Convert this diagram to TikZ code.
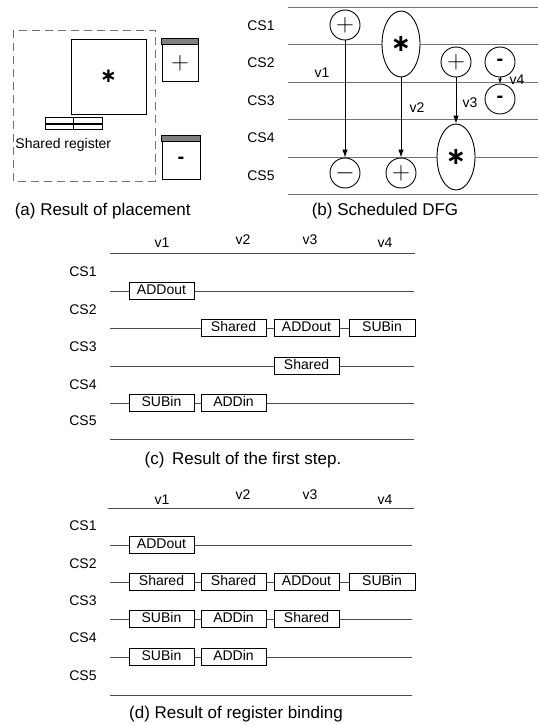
\documentclass[tikz,border=0pt]{standalone}
\usepackage{fontspec}
\setmainfont{Liberation Sans}
\newfontfamily\symfont{DejaVu Sans}
\usetikzlibrary{shapes.geometric,arrows.meta}
\newcommand{\estrella}{{\symfont\bfseries ∗}}
\begin{document}
\begin{tikzpicture}[
    x=1pt,
    y=-1pt,
    line width=0.9pt,
    >={Latex[length=8pt,width=5.5pt]},
    font=\fontsize{14}{16}\selectfont,
    opc/.style={draw,circle,minimum size=30pt,inner sep=0pt,fill=white,
        font=\fontsize{30}{30}\selectfont},
    opm/.style={draw,ellipse,minimum width=38pt,minimum height=66pt,
        inner sep=0pt,fill=white,font=\fontsize{24}{24}\selectfont},
    reg/.style={draw,fill=white,minimum width=65pt,minimum height=17pt,
        inner sep=0pt,text height=10pt,text depth=2.5pt},
    fila/.style={black!70},
    csfila/.style={black!55},
    leyenda/.style={font=\fontsize{17}{19}\selectfont}
]
    \useasboundingbox (0,0) rectangle (538,725);

    % Panel (a): placement
    \draw[black!55,dash pattern=on 8pt off 5pt] (13,30) rectangle (155,181);
    \node[draw,minimum size=75pt,inner sep=0pt,font=\fontsize{20}{20}\selectfont]
        (mula) at (108.5,76.5) {\estrella};
    \draw (45,117) rectangle (102,129);
    \draw (73,117) -- (73,129);
    \draw[line width=1.6pt] (45,124) -- (102,124);
    \node[anchor=west,inner sep=0pt] (sreg) at (15,145) {Shared register};
    \node[draw,minimum width=36pt,minimum height=42pt] (adda) at (180,60) {};
    \filldraw[fill=gray] (adda.north west) rectangle ([yshift=-6pt]adda.north east);
    \node[font=\fontsize{26}{26}\selectfont] (addsym) at ([yshift=-3pt]adda.center) {$+$};
    \node[draw,minimum width=38pt,minimum height=43pt] (suba) at (181,157.5) {};
    \filldraw[fill=gray] (suba.north west) rectangle ([yshift=-6pt]suba.north east);
    \node[font=\fontsize{20}{20}\selectfont\bfseries] (subsym) at ([yshift=-3pt]suba.center) {-};
    \node[leyenda,anchor=west] (capa) at (11,211) {(a) Result of placement};

    % Panel (b): scheduled DFG
    \foreach \y in {7,44,82,119,157,194}
        \draw[csfila] (288,\y) -- (538,\y);
    \foreach \n/\y in {1/26,2/63,3/101,4/138,5/176}
        \node (csb\n) at (261,\y) {CS\n};
    \node[opc] (addA) at (345,25) {$+$};
    \node[opm] (mulB) at (401,44) {\estrella};
    \node[opc] (addC) at (456,62) {$+$};
    \node[opc,font=\fontsize{20}{20}\selectfont\bfseries] (subD) at (500,62) {-};
    \node[opc,font=\fontsize{20}{20}\selectfont\bfseries] (subE) at (500,99) {-};
    \node[opc] (subF) at (345,173) {$-$};
    \node[opc] (addG) at (401,173) {$+$};
    \node[opm] (mulH) at (456,157) {\estrella};
    \draw[->] (addA) -- (subF);
    \draw[->] (mulB) -- (addG);
    \draw[->] (addC) -- (mulH);
    \draw[-{Latex[length=5pt,width=4pt]}] (subD) -- (subE);
    \node (v1b) at (322,73) {v1};
    \node (v2b) at (417,108) {v2};
    \node (v3b) at (470,103) {v3};
    \node (v4b) at (517,80) {v4};
    \node[leyenda] (capb) at (385,211) {(b) Scheduled DFG};

    % Panel (c): first step
    \node (v1c) at (162,243) {v1};
    \node (v2c) at (243,240) {v2};
    \node (v3c) at (310,240) {v3};
    \node (v4c) at (385,243) {v4};
    \draw[fila] (110,253) -- (415,253);
    \foreach \y in {291,328,366,403,439}
        \draw[fila] (110,\y) -- (414,\y);
    \foreach \n/\y in {1/272,2/310,3/347,4/385,5/421}
        \node (csc\n) at (83,\y) {CS\n};
    \node[reg] (c11) at (161.5,291) {ADDout};
    \node[reg] (c22) at (233.5,328) {Shared};
    \node[reg] (c23) at (306.5,328) {ADDout};
    \node[reg,minimum width=66pt] (c24) at (382,328) {SUBin};
    \node[reg] (c33) at (306.5,366) {Shared};
    \node[reg] (c41) at (161.5,403) {SUBin};
    \node[reg] (c42) at (233.5,403) {ADDin};
    \node[leyenda] (capc) at (243,460) {(c)\, Result of the first step.};

    % Panel (d): register binding
    \node (v1d) at (162,500) {v1};
    \node (v2d) at (243,495) {v2};
    \node (v3d) at (310,495) {v3};
    \node (v4d) at (385,500) {v4};
    \draw[fila] (108,508) -- (414,508);
    \foreach \y in {545,582,619,657,695}
        \draw[fila] (110,\y) -- (412,\y);
    \foreach \n/\y in {1/526,2/564,3/601,4/638,5/676}
        \node (csd\n) at (83,\y) {CS\n};
    \node[reg] (d11) at (161.5,545) {ADDout};
    \node[reg] (d21) at (161.5,582) {Shared};
    \node[reg] (d22) at (233.5,582) {Shared};
    \node[reg] (d23) at (306.5,582) {ADDout};
    \node[reg,minimum width=66pt] (d24) at (382,582) {SUBin};
    \node[reg] (d31) at (161.5,619) {SUBin};
    \node[reg] (d32) at (233.5,619) {ADDin};
    \node[reg] (d33) at (306.5,619) {Shared};
    \node[reg] (d41) at (161.5,657) {SUBin};
    \node[reg] (d42) at (233.5,657) {ADDin};
    \node[leyenda] (capd) at (236,714) {(d) Result of register binding};
\end{tikzpicture}
\end{document}
